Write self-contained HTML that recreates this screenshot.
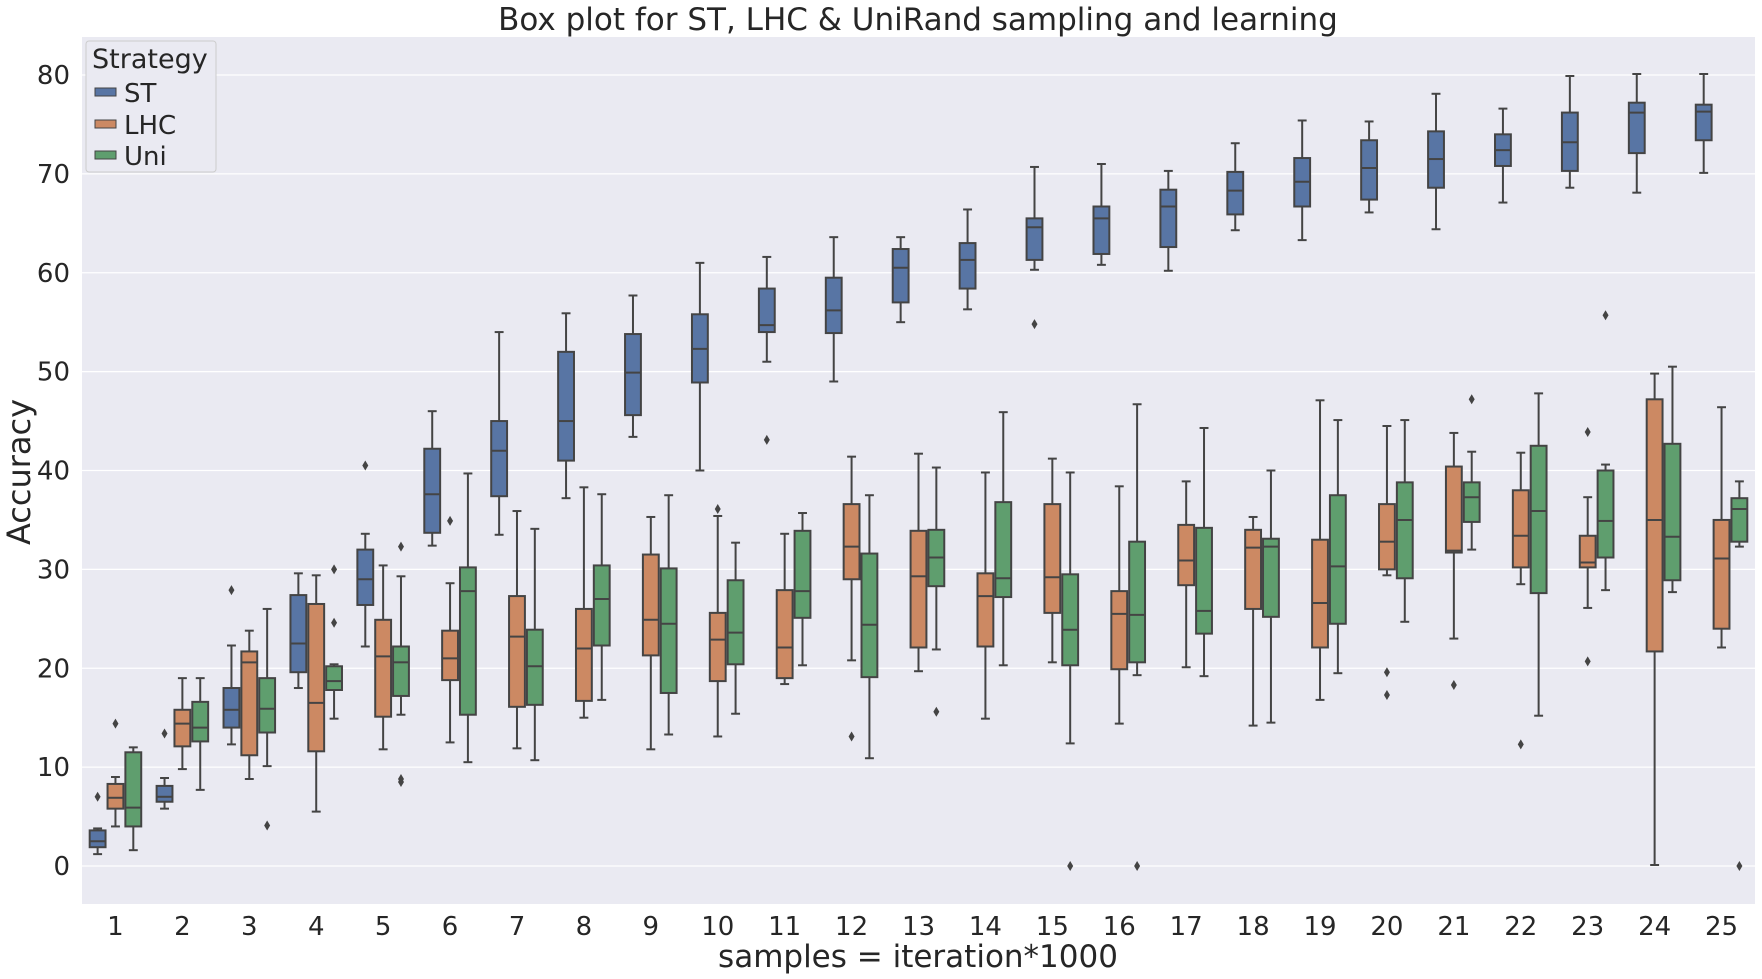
<!DOCTYPE html>
<html><head><meta charset="utf-8"><style>
body{margin:0;background:#fff;}
svg{display:block;font-family:"DejaVu Sans","Liberation Sans",sans-serif;}
</style></head><body>
<svg id="chart" width="1762" height="979">
<rect x="82" y="37" width="1673" height="867" fill="#eaeaf2"/>
<g id="grid"></g>
<g id="boxes"></g>
<g id="axes"></g>
<text x="918" y="30" font-size="31" text-anchor="middle" fill="#262626">Box plot for ST, LHC &amp; UniRand sampling and learning</text>
<text x="918" y="967" font-size="31" text-anchor="middle" fill="#262626">samples = iteration*1000</text>
<text transform="translate(30,472) rotate(-90)" font-size="32" text-anchor="middle" fill="#262626">Accuracy</text>
<g>
<rect x="86" y="41" width="130" height="131" rx="3" fill="#eaeaf2" stroke="#cccccc"/>
<text x="92" y="68" font-size="27" fill="#262626">Strategy</text>
<g><rect x="95" y="88" width="21" height="8" fill="#5875a4" stroke="#444"/><text x="124" y="102" font-size="26" fill="#262626">ST</text></g>
<g><rect x="95" y="120" width="21" height="8" fill="#cc8963" stroke="#444"/><text x="124" y="134" font-size="26" fill="#262626">LHC</text></g>
<g><rect x="95" y="151" width="21" height="8" fill="#5f9e6e" stroke="#444"/><text x="124" y="165" font-size="26" fill="#262626">Uni</text></g>
</g>
</svg>
<script>
const categories=[1,2,3,4,5,6,7,8,9,10,11,12,13,14,15,16,17,18,19,20,21,22,23,24,25];
const yTicks=[0,10,20,30,40,50,60,70,80];
const seriesNames=["ST","LHC","Uni"];
// [whiskerLow, q1, median, q3, whiskerHigh]
const stStats=[[1.2,1.9,2.5,3.6,3.8],[5.8,6.5,7,8.1,8.9],[12.3,14,15.8,18,22.3],[18,19.6,22.5,27.4,29.6],[22.2,26.4,29,32,33.6],[32.4,33.7,37.6,42.2,46],[33.5,37.4,42,45,54],[37.2,41,45,52,55.9],[43.4,45.6,49.9,53.8,57.7],[40,48.9,52.3,55.8,61],[51,54,54.7,58.4,61.6],[49,53.9,56.2,59.5,63.6],[55,57,60.5,62.4,63.6],[56.3,58.4,61.3,63,66.4],[60.3,61.3,64.6,65.5,70.7],[60.8,61.9,65.5,66.7,71],[60.2,62.6,66.7,68.4,70.3],[64.3,65.9,68.3,70.2,73.1],[63.3,66.7,69.2,71.6,75.4],[66.1,67.4,70.6,73.4,75.3],[64.4,68.6,71.5,74.3,78.1],[67.1,70.8,72.4,74,76.6],[68.6,70.3,73.2,76.2,79.9],[68.1,72.1,76.2,77.2,80.1],[70.1,73.4,76.3,77,80.1]];
const stOutliers=[[7],[13.4],[27.9],[],[40.5],[],[],[],[],[],[43.1],[],[],[],[54.8],[],[],[],[],[],[],[],[],[],[]];
const lhcStats=[[4,5.8,6.9,8.3,9],[9.8,12.1,14.4,15.8,19],[8.8,11.2,20.6,21.7,23.8],[5.5,11.6,16.5,26.5,29.4],[11.8,15.1,21.2,24.9,30.4],[12.5,18.8,21,23.8,28.6],[11.9,16.1,23.2,27.3,35.9],[15,16.7,22,26,38.3],[11.8,21.3,24.9,31.5,35.3],[13.1,18.7,22.9,25.6,35.4],[18.4,19,22.1,27.9,33.6],[20.8,29,32.3,36.6,41.4],[19.7,22.1,29.3,33.9,41.7],[14.9,22.2,27.3,29.6,39.8],[20.6,25.6,29.2,36.6,41.2],[14.4,19.9,25.5,27.8,38.4],[20.1,28.4,30.9,34.5,38.9],[14.2,26,32.2,34,35.3],[16.8,22.1,26.6,33,47.1],[29.4,30,32.8,36.6,44.5],[23,31.7,31.9,40.4,43.8],[28.5,30.2,33.4,38,41.8],[26.1,30.2,30.7,33.4,37.3],[0.1,21.7,35,47.2,49.8],[22.1,24,31.1,35,46.4]];
const lhcOutliers=[[14.4],[],[],[],[],[34.9],[],[],[],[36.1],[],[13.1],[],[],[],[],[],[],[],[19.6,17.3],[18.3],[12.3],[43.9,20.7],[],[]];
const uniStats=[[1.6,4,5.9,11.5,12],[7.7,12.6,14,16.6,19],[10.1,13.5,15.9,19,26],[14.9,17.8,18.7,20.2,20.4],[15.3,17.2,20.6,22.2,29.3],[10.5,15.3,27.8,30.2,39.7],[10.7,16.3,20.2,23.9,34.1],[16.8,22.3,27,30.4,37.6],[13.3,17.5,24.5,30.1,37.5],[15.4,20.4,23.6,28.9,32.7],[20.3,25.1,27.8,33.9,35.7],[10.9,19.1,24.4,31.6,37.5],[21.9,28.3,31.2,34,40.3],[20.3,27.2,29.1,36.8,45.9],[12.4,20.3,23.9,29.5,39.8],[19.3,20.6,25.4,32.8,46.7],[19.2,23.5,25.8,34.2,44.3],[14.5,25.2,32.3,33.1,40],[19.5,24.5,30.3,37.5,45.1],[24.7,29.1,35,38.8,45.1],[32,34.8,37.3,38.8,41.9],[15.2,27.6,35.9,42.5,47.8],[27.9,31.2,34.9,40,40.6],[27.7,28.9,33.3,42.7,50.5],[32.3,32.8,36.1,37.2,38.9]];
const uniOutliers=[[],[],[4.1],[24.6,30],[32.3,8.8,8.5],[],[],[],[],[],[],[],[15.6],[],[0],[0],[],[],[],[],[47.2],[],[55.7],[],[0]];

const NS="http://www.w3.org/2000/svg";
const L=82,R=1755,T=37,B=904;
const bw=(R-L)/categories.length;
const y=v=>866-(v)*(866-75)/80;
const xc=i=>L+(i+0.5)*bw;
function mk(tag,attrs,parent){const e=document.createElementNS(NS,tag);for(const k in attrs)e.setAttribute(k,attrs[k]);parent.appendChild(e);return e;}
const grid=document.getElementById('grid'),axes=document.getElementById('axes'),boxes=document.getElementById('boxes');
yTicks.forEach(t=>{
  const g=mk('line',{x1:L,x2:R,y1:y(t),y2:y(t),stroke:'#fff','stroke-width':1.3},grid);
  
  
  const tx=mk('text',{x:L-12,y:y(t)+9,'font-size':26,'text-anchor':'end',fill:'#262626'},axes);
  tx.textContent=t;
  
  
});
categories.forEach((c,i)=>{
  const tx=mk('text',{x:xc(i),y:935,'font-size':26,'text-anchor':'middle',fill:'#262626'},axes);
  tx.textContent=c;
  
  
});
const series=[[stStats,stOutliers,'#5875a4','st'],[lhcStats,lhcOutliers,'#cc8963','lhc'],[uniStats,uniOutliers,'#5f9e6e','uni']];
const w=bw*0.8/3, line='#444', lw=2;
series.forEach((s,si)=>{
  s[0].forEach((st,i)=>{
    const cx=xc(i)+(si-1)*w;
    const g=mk('g',{},boxes);
    
    
    mk('line',{x1:cx,x2:cx,y1:y(st[0]),y2:y(st[1]),stroke:line,'stroke-width':lw},g);
    mk('line',{x1:cx,x2:cx,y1:y(st[3]),y2:y(st[4]),stroke:line,'stroke-width':lw},g);
    mk('line',{x1:cx-w/4,x2:cx+w/4,y1:y(st[0]),y2:y(st[0]),stroke:line,'stroke-width':lw},g);
    mk('line',{x1:cx-w/4,x2:cx+w/4,y1:y(st[4]),y2:y(st[4]),stroke:line,'stroke-width':lw},g);
    mk('rect',{x:cx-w/2+1,y:y(st[3]),width:w-2,height:y(st[1])-y(st[3]),fill:s[2],stroke:line,'stroke-width':lw},g);
    mk('line',{x1:cx-w/2+1,x2:cx+w/2-1,y1:y(st[2]),y2:y(st[2]),stroke:line,'stroke-width':lw},g);
    s[1][i].forEach(o=>{
      const p=mk('path',{d:`M${cx},${y(o)-5} L${cx+3},${y(o)} L${cx},${y(o)+5} L${cx-3},${y(o)} Z`,fill:line},g);
      
      
    });
  });
});
</script>
</body></html>
